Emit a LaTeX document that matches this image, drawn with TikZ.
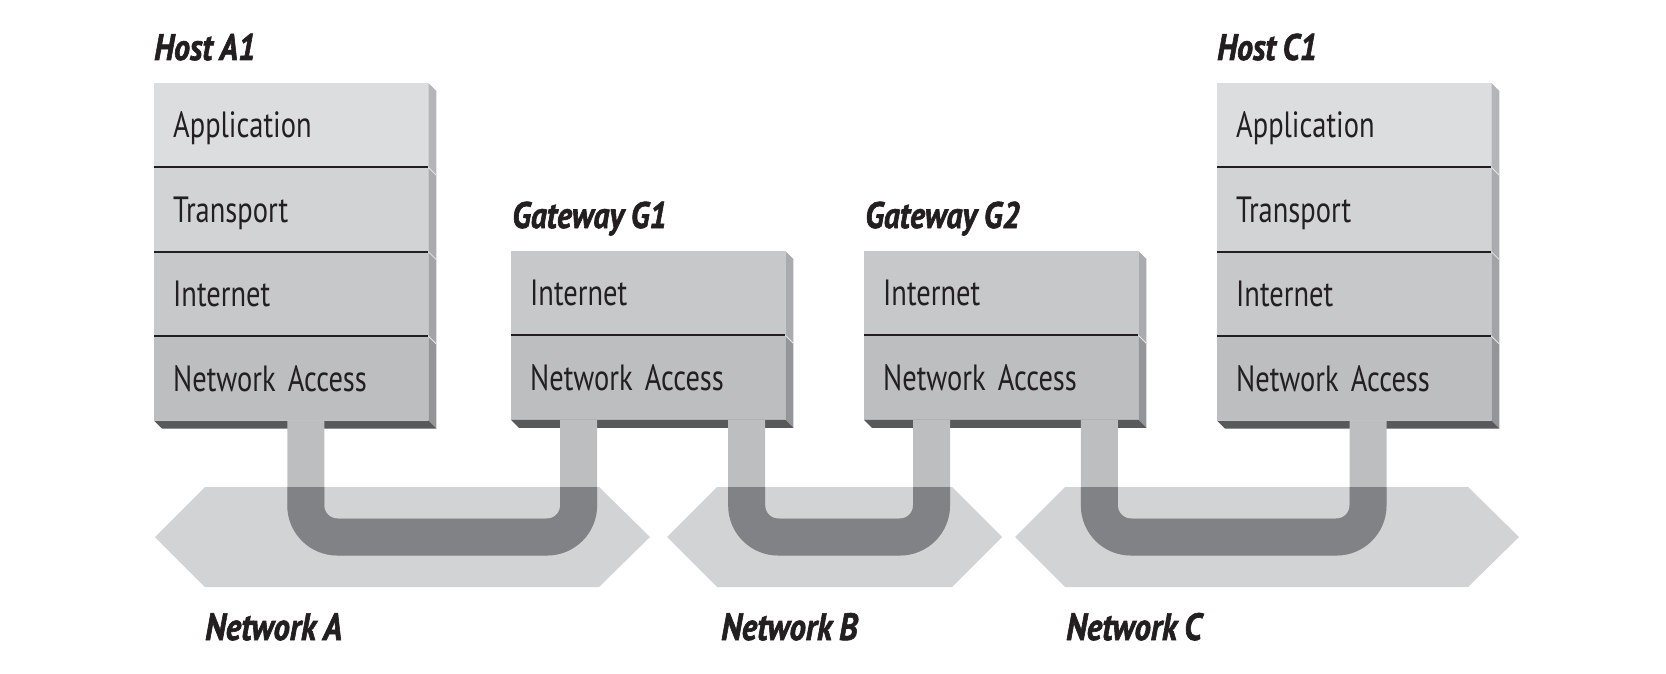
\documentclass[tikz,border=0pt]{standalone}
\usepackage{fontspec}
\setmainfont{PT Sans}
\newfontfamily\layerfont[FakeStretch=0.78]{PT Sans}
\newfontfamily\titlefont[FakeStretch=0.86, FakeBold=1.6]{PT Sans}
\newcommand\layerfontsel{\layerfont\fontsize{36.5}{40}\selectfont\spaceskip 6pt\relax}
\newcommand\titlefontsel{\titlefont\bfseries\itshape\fontsize{37}{40}\selectfont\spaceskip 7pt\relax}
\newcommand\netfontsel{\titlefont\bfseries\itshape\fontsize{38}{40}\selectfont\spaceskip 7pt\relax}
\usetikzlibrary{calc}
\definecolor{txt}{HTML}{231F20}
\definecolor{appc}{HTML}{DCDDDF}
\definecolor{trac}{HTML}{D1D3D4}
\definecolor{intc}{HTML}{C7C8CA}
\definecolor{netc}{HTML}{BCBEC0}
\definecolor{sideapp}{HTML}{B3B5B8}
\definecolor{sidetra}{HTML}{A9ABAE}
\definecolor{sideint}{HTML}{A2A4A7}
\definecolor{sidenet}{HTML}{939598}
\definecolor{shadowc}{HTML}{58595B}
\definecolor{hexc}{HTML}{D1D3D4}
\definecolor{stemc}{HTML}{BCBEC0}
\definecolor{udark}{HTML}{808285}
\tikzset{
  layer/.style={rectangle, anchor=north west, minimum width=274pt, minimum height=84pt,
    inner xsep=19pt, inner ysep=0pt, text width=236pt, align=left,
    text height=25.5pt, text depth=0pt, text=txt, font=\layerfontsel},
  title/.style={anchor=base west, inner sep=0pt, text=txt, font=\titlefontsel},
  netlabel/.style={title, font=\netfontsel},
  divider/.style={draw=txt, line width=2pt},
  ulight/.style={draw=stemc, line width=37pt, rounded corners=31.5pt},
  udarkst/.style={draw=udark, line width=37pt, rounded corners=31.5pt},
}
% side face of a layer node
\newcommand\sideface[2]{\fill[#2] (#1.north east) -- ++(8,8) -- ($(#1.south east)+(8,8)$) -- (#1.south east) -- cycle;}
\newcommand\bottomface[1]{\fill[shadowc] (#1.south west) -- ++(8,8) -- ($(#1.south east)+(8,8)$) -- (#1.south east) -- cycle;}
\newcommand\sidenotch[1]{\draw[white!80!gray, line width=0.8pt] (#1.south east) -- ++(8,8);}
\begin{document}
\begin{tikzpicture}[x=1pt,y=-1pt]
\useasboundingbox (0,0) rectangle (1666,674);

% ---- network hexagons
\fill[hexc] (155,537) -- (205,487) -- (599,487) -- (650,537) -- (599,587) -- (205,587) -- cycle;
\fill[hexc] (667,537) -- (717,487) -- (952,487) -- (1002,537) -- (952,587) -- (717,587) -- cycle;
\fill[hexc] (1015,537) -- (1065,487) -- (1468,487) -- (1519,537) -- (1468,587) -- (1065,587) -- cycle;
\coordinate (cA) at (402,537);
\coordinate (cB) at (834,537);
\coordinate (cC) at (1267,537);

% ---- Host A1
\node[title] (tA1) at (154,60) {Host A1};
\node[layer, fill=appc] (a1app) at (154,83) {Application};
\node[layer, fill=trac] (a1tra) at (a1app.south west) {Transport};
\node[layer, fill=intc] (a1int) at (a1tra.south west) {Internet};
\node[layer, fill=netc] (a1net) at (a1int.south west) {Network Access};
\sideface{a1app}{sideapp}\sideface{a1tra}{sidetra}\sideface{a1int}{sideint}\sideface{a1net}{sidenet}
\bottomface{a1net}
\sidenotch{a1app}\sidenotch{a1tra}\sidenotch{a1int}
\draw[divider] (a1app.south west) -- (a1app.south east);
\draw[divider] (a1tra.south west) -- (a1tra.south east);
\draw[divider] (a1int.south west) -- (a1int.south east);

% ---- Gateway G1
\node[title] (tG1) at (512,228) {Gateway G1};
\node[layer, fill=intc] (g1int) at (511,251) {Internet};
\node[layer, fill=netc] (g1net) at (g1int.south west) {Network Access};
\sideface{g1int}{sidetra}\sideface{g1net}{sidenet}
\bottomface{g1net}
\sidenotch{g1int}
\draw[divider] (g1int.south west) -- (g1int.south east);

% ---- Gateway G2
\node[title] (tG2) at (865,228) {Gateway G2};
\node[layer, fill=intc] (g2int) at (864,251) {Internet};
\node[layer, fill=netc] (g2net) at (g2int.south west) {Network Access};
\sideface{g2int}{sidetra}\sideface{g2net}{sidenet}
\bottomface{g2net}
\sidenotch{g2int}
\draw[divider] (g2int.south west) -- (g2int.south east);

% ---- Host C1
\node[title] (tC1) at (1217,60) {Host C1};
\node[layer, fill=appc] (c1app) at (1217,83) {Application};
\node[layer, fill=trac] (c1tra) at (c1app.south west) {Transport};
\node[layer, fill=intc] (c1int) at (c1tra.south west) {Internet};
\node[layer, fill=netc] (c1net) at (c1int.south west) {Network Access};
\sideface{c1app}{sideapp}\sideface{c1tra}{sidetra}\sideface{c1int}{sideint}\sideface{c1net}{sidenet}
\bottomface{c1net}
\sidenotch{c1app}\sidenotch{c1tra}\sidenotch{c1int}
\draw[divider] (c1app.south west) -- (c1app.south east);
\draw[divider] (c1tra.south west) -- (c1tra.south east);
\draw[divider] (c1int.south west) -- (c1int.south east);

% ---- attachment points
\coordinate (pA1) at ($(a1net.south west)+(151.8,0)$);
\coordinate (pG1a) at ($(g1net.south west)+(67.6,0)$);
\coordinate (pG1b) at ($(g1net.south west)+(235.7,0)$);
\coordinate (pG2a) at ($(g2net.south west)+(67.5,0)$);
\coordinate (pG2b) at ($(g2net.south west)+(235.4,0)$);
\coordinate (pC1) at ($(c1net.south west)+(151,0)$);

% ---- connectors (light where outside the network)
\draw[ulight] (pA1) -- (pA1 |- cA) -- (pG1a |- cA) -- (pG1a);
\draw[ulight] (pG1b) -- (pG1b |- cB) -- (pG2a |- cB) -- (pG2a);
\draw[ulight] (pG2b) -- (pG2b |- cC) -- (pC1 |- cC) -- (pC1);
% darker where they cross the network band
\begin{scope}
\clip (155,537) -- (205,487) -- (599,487) -- (650,537) -- (599,587) -- (205,587) -- cycle;
\draw[udarkst] (pA1) -- (pA1 |- cA) -- (pG1a |- cA) -- (pG1a);
\end{scope}
\begin{scope}
\clip (667,537) -- (717,487) -- (952,487) -- (1002,537) -- (952,587) -- (717,587) -- cycle;
\draw[udarkst] (pG1b) -- (pG1b |- cB) -- (pG2a |- cB) -- (pG2a);
\end{scope}
\begin{scope}
\clip (1015,537) -- (1065,487) -- (1468,487) -- (1519,537) -- (1468,587) -- (1065,587) -- cycle;
\draw[udarkst] (pG2b) -- (pG2b |- cC) -- (pC1 |- cC) -- (pC1);
\end{scope}

% ---- network labels
\node[netlabel] (lA) at (205,640) {Network A};
\node[netlabel] (lB) at (721,640) {Network B};
\node[netlabel] (lC) at (1066,640) {Network C};
\end{tikzpicture}
\end{document}
